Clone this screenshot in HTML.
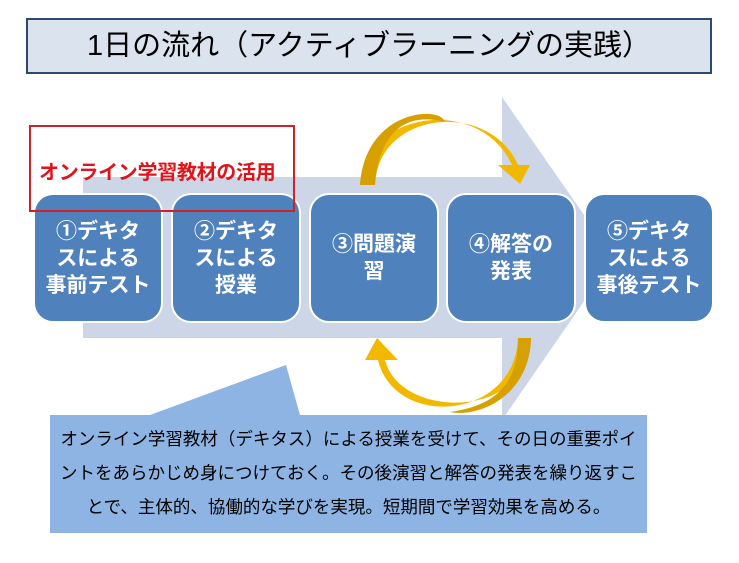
<!DOCTYPE html>
<html><head><meta charset="utf-8"><style>
html,body{margin:0;padding:0;background:#fff;}
body{width:739px;height:563px;position:relative;overflow:hidden;font-family:"Liberation Sans","Noto Sans CJK JP",sans-serif;}
.title{position:absolute;left:26px;top:18px;width:682px;height:52px;border:2px solid #2c4a6e;background:#dbe3ef;text-align:center;font-size:29px;line-height:52px;color:#000;}
.box{position:absolute;top:193px;width:126px;height:126px;border:2px solid #fff;border-radius:20px;background:#4f81bd;color:#fff;font-weight:bold;font-size:21px;line-height:27px;display:flex;align-items:center;justify-content:center;text-align:center;}
.red{position:absolute;left:29px;top:125px;width:262px;height:83px;border:2px solid #d0202a;}
.redt{position:absolute;left:39px;top:156px;color:#e0151b;font-weight:bold;font-size:20px;letter-spacing:-0.3px;}
.call{position:absolute;left:50px;top:415px;width:597px;height:118px;background:#8eb4e3;text-align:center;font-size:17.5px;line-height:34px;padding-top:7px;box-sizing:border-box;color:#000;white-space:nowrap;}
</style></head><body>
<div class="title">1日の流れ（アクティブラーニングの実践）</div>
<svg width="739" height="563" style="position:absolute;left:0;top:0">
<polygon points="83,177 502,177 502,97 614,258 502,420 502,338 83,338" fill="#ccd6e6"/>
<polygon points="150,415 286,365 300,415" fill="#8eb4e3"/>
<path d="M360,185 C365,110 480,95 512,165 L498,165 L520,184 L530,165 L518,165 C490,100 378,110 375,185 Z" fill="#f2b800"/>
<path d="M360,185 C365,110 440,105 445,122 C400,110 378,140 375,185 Z" fill="#d6a000"/>
<path d="M531,338 C530,420 400,420 385,360 L398,360 L377,338 L365,360 L378,360 C395,430 515,420 518,338 Z" fill="#f2b800"/>
<path d="M531,338 C530,395 480,418 450,412 C500,405 518,380 518,338 Z" fill="#d6a000"/>
</svg>
<div class="box" style="left:33px">①デキタ<br>スによる<br>事前テスト</div>
<div class="box" style="left:171px">②デキタ<br>スによる<br>授業</div>
<div class="box" style="left:309px">③問題演<br>習</div>
<div class="box" style="left:446px">④解答の<br>発表</div>
<div class="box" style="left:584px">⑤デキタ<br>スによる<br>事後テスト</div>
<div class="red"></div>
<div class="redt">オンライン学習教材の活用</div>
<div class="call">オンライン学習教材（デキタス）による授業を受けて、その日の重要ポイ<br>ントをあらかじめ身につけておく。その後演習と解答の発表を繰り返すこ<br>とで、主体的、協働的な学びを実現。短期間で学習効果を高める。</div>
</body></html>
